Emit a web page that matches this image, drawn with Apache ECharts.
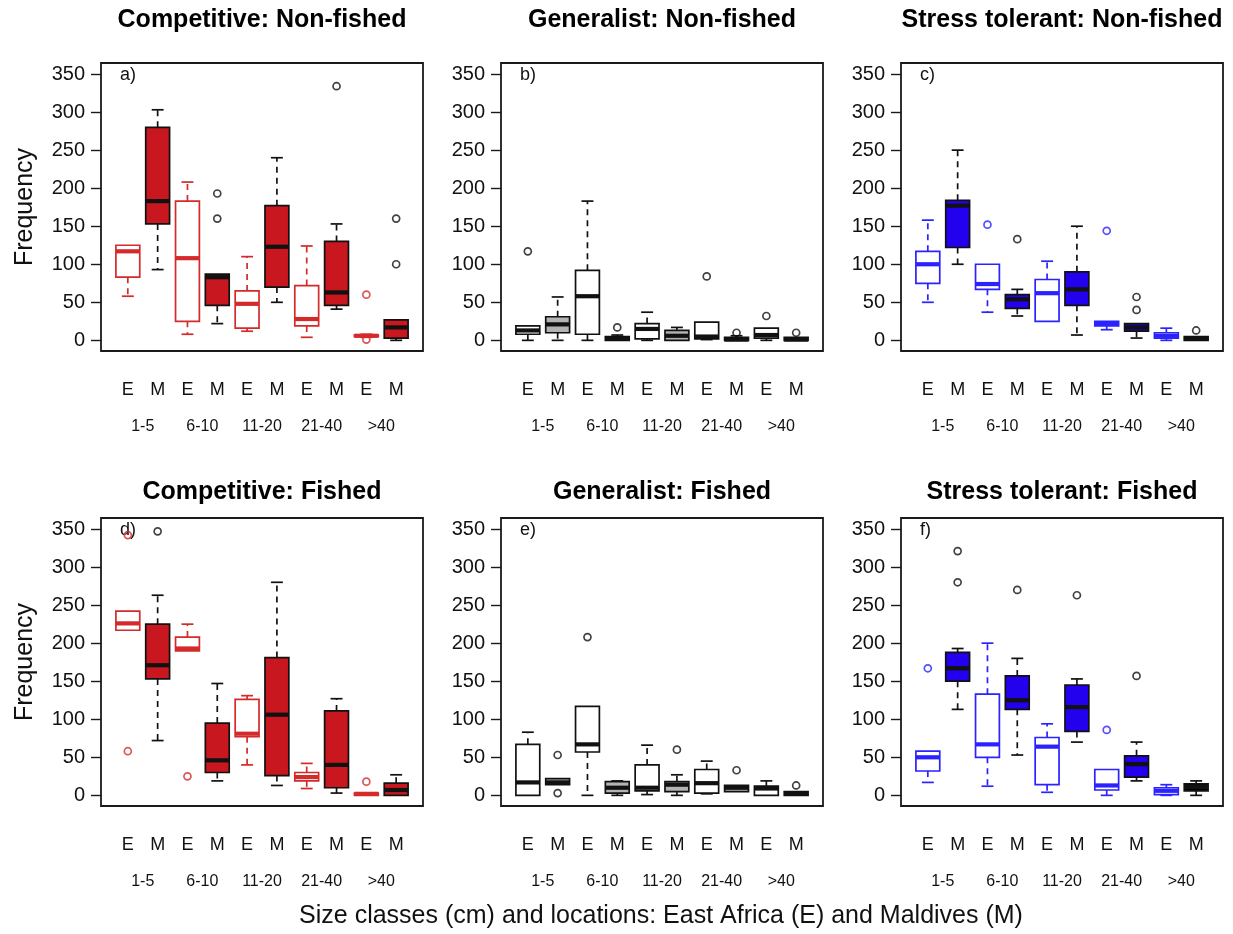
<!DOCTYPE html>
<html>
<head>
<meta charset="utf-8">
<script src="https://cdn.jsdelivr.net/npm/echarts@6/dist/echarts.min.js"></script>
<style>
html,body{margin:0;padding:0;background:#fff;}
#chart{width:1233px;height:934px;}
</style>
</head>
<body>
<div id="chart"></div>
<script>
// ---------------- DATA ----------------
const sizeClasses = ['1-5', '6-10', '11-20', '21-40', '>40'];
const locations = ['E', 'M'];
const yTicks = [0, 50, 100, 150, 200, 250, 300, 350];
const panelTitles = ['Competitive: Non-fished', 'Generalist: Non-fished', 'Stress tolerant: Non-fished',
                     'Competitive: Fished', 'Generalist: Fished', 'Stress tolerant: Fished'];
const panelLetters = ['a)', 'b)', 'c)', 'd)', 'e)', 'f)'];

// boxes: [lower whisker, Q1, median, Q3, upper whisker] ordered E,M for each size class
const compNonFished = [
  [58, 83, 117, 125, 125], [93, 153, 183, 280, 303],
  [8, 25, 108, 183, 208], [22, 46, 83, 87, 87],
  [12, 16, 48, 65, 110], [50, 70, 123, 177, 240],
  [4, 19, 28, 72, 124], [41, 46, 63, 130, 153],
  [4, 5, 6, 7, 8], [0, 3, 17, 27, 27]
];
const compNonFishedOut = [[4, 160], [4, 193], [8, 334], [9, 60], [9, 1], [10, 100], [10, 160]];

const genNonFished = [
  [0, 8, 13, 19, 19], [0, 10, 21, 31, 57],
  [0, 8, 58, 92, 183], [0, 0, 2, 5, 7],
  [0, 2, 15, 22, 37], [0, 0, 6, 13, 17],
  [1, 2, 5, 24, 24], [0, 0, 1, 4, 6],
  [0, 3, 7, 16, 16], [0, 0, 1, 4, 4]
];
const genNonFishedOut = [[1, 117], [4, 17], [7, 84], [8, 10], [9, 32], [10, 10]];

const stressNonFished = [
  [50, 75, 100, 117, 158], [100, 122, 177, 184, 250],
  [37, 67, 74, 100, 100], [32, 42, 54, 60, 67],
  [25, 25, 62, 80, 104], [7, 46, 67, 90, 150],
  [14, 19, 22, 25, 25], [3, 12, 17, 22, 22],
  [0, 3, 6, 10, 16], [0, 0, 2, 5, 5]
];
const stressNonFishedOut = [[3, 152], [4, 133], [7, 144], [8, 40], [8, 57], [10, 13]];

const compFished = [
  [217, 217, 226, 242, 242], [72, 153, 171, 225, 263],
  [190, 190, 193, 208, 225], [19, 30, 46, 95, 147],
  [40, 77, 81, 126, 131], [13, 26, 106, 181, 280],
  [9, 19, 24, 30, 42], [3, 10, 40, 111, 127],
  [0, 0, 2, 3, 3], [0, 0, 7, 16, 27]
];
const compFishedOut = [[1, 58], [1, 342], [2, 347], [3, 25], [9, 18]];

const genFished = [
  [0, 0, 17, 67, 83], [14, 14, 17, 22, 22],
  [0, 57, 67, 117, 117], [0, 3, 10, 18, 19],
  [1, 6, 10, 40, 66], [0, 5, 14, 18, 27],
  [2, 3, 16, 34, 45], [5, 5, 10, 13, 13],
  [0, 0, 9, 12, 19], [0, 0, 2, 5, 5]
];
const genFishedOut = [[2, 53], [2, 3], [3, 208], [6, 60], [8, 33], [10, 13]];

const stressFished = [
  [17, 32, 50, 58, 58], [113, 150, 167, 188, 193],
  [12, 50, 67, 133, 200], [53, 113, 125, 157, 180],
  [4, 14, 64, 76, 94], [70, 84, 116, 145, 153],
  [0, 7, 13, 34, 34], [19, 24, 41, 52, 70],
  [0, 1, 6, 10, 14], [0, 6, 11, 15, 19]
];
const stressFishedOut = [[1, 167], [2, 280], [2, 321], [4, 270], [6, 263], [7, 86], [8, 157]];

// ---------------- STYLE ----------------
const FONT = '"Liberation Sans", Arial, Helvetica, sans-serif';
const RED_E = '#d42a2a', RED_M = '#c8171e';
const BLUE_E = '#2b22ff', BLUE_M = '#2300ee';
const GREY_M = '#b3b3b3';
const themes = {
  comp:   { eStroke: RED_E, mFill: [RED_M, RED_M, RED_M, RED_M, RED_M] },
  gen:    { eStroke: '#111', mFill: [GREY_M, GREY_M, GREY_M, GREY_M, GREY_M] },
  stress: { eStroke: BLUE_E, mFill: [BLUE_M, BLUE_M, BLUE_M, BLUE_M, '#000'] }
};
const panels = [
  { stats: compNonFished, out: compNonFishedOut, theme: themes.comp },
  { stats: genNonFished, out: genNonFishedOut, theme: themes.gen },
  { stats: stressNonFished, out: stressNonFishedOut, theme: themes.stress },
  { stats: compFished, out: compFishedOut, theme: themes.comp },
  { stats: genFished, out: genFishedOut, theme: themes.gen },
  { stats: stressFished, out: stressFishedOut, theme: themes.stress }
];
const gridLefts = [101, 501, 901];
const gridTops = [63, 518];
const GW = 322, GH = 288;

const grids = [], xAxes = [], yAxes = [], series = [], graphics = [];

panels.forEach((p, i) => {
  const col = i % 3, row = Math.floor(i / 3);
  const left = gridLefts[col], top = gridTops[row];
  grids.push({ left: left, top: top, width: GW, height: GH, show: true,
    borderColor: '#1a1a1a', borderWidth: 1.8, backgroundColor: '#fff' });

  const xBase = {
    type: 'value', gridIndex: i, min: 0.1, max: 10.9, position: 'bottom',
    axisLine: { show: false }, axisTick: { show: false }, splitLine: { show: false }
  };
  xAxes.push(Object.assign({}, xBase, {
    axisLabel: { customValues: [1, 2, 3, 4, 5, 6, 7, 8, 9, 10], margin: 30,
      fontFamily: FONT, fontSize: 18, color: '#111',
      formatter: v => locations[(Math.round(v) - 1) % 2] }
  }));
  xAxes.push(Object.assign({}, xBase, {
    axisLabel: { customValues: [1.5, 3.5, 5.5, 7.5, 9.5], margin: 68,
      fontFamily: FONT, fontSize: 16, color: '#111',
      formatter: v => sizeClasses[Math.round((v - 1.5) / 2)] }
  }));
  yAxes.push({
    type: 'value', gridIndex: i, min: -14, max: 364.5,
    axisLine: { show: false }, splitLine: { show: false },
    axisTick: { show: true, customValues: yTicks, length: 10, lineStyle: { color: '#1a1a1a', width: 1.4 } },
    axisLabel: { customValues: yTicks, margin: 16, fontFamily: FONT, fontSize: 20, color: '#111' }
  });

  const th = p.theme;
  series.push({
    type: 'custom', xAxisIndex: 2 * i, yAxisIndex: i, clip: false,
    data: p.stats.map((s, k) => [k + 1].concat(s)),
    renderItem: function (params, api) {
      const k = params.dataIndex;
      const isE = k % 2 === 0;
      const x = api.value(0);
      const lo = api.coord([x, api.value(1)]);
      const q1 = api.coord([x, api.value(2)]);
      const md = api.coord([x, api.value(3)]);
      const q3 = api.coord([x, api.value(4)]);
      const hi = api.coord([x, api.value(5)]);
      const hw = api.size([0.4, 0])[0];
      const sw = api.size([0.2, 0])[0];
      const stroke = isE ? th.eStroke : '#111';
      const fill = isE ? '#fff' : th.mFill[Math.floor(k / 2)];
      const cx = lo[0];
      const children = [];
      const wl = { stroke: stroke, lineWidth: 1.7, lineDash: [6, 5] };
      if (hi[1] < q3[1] - 0.5) {
        children.push({ type: 'line', shape: { x1: cx, y1: q3[1], x2: cx, y2: hi[1] }, style: wl });
        children.push({ type: 'line', shape: { x1: cx - sw, y1: hi[1], x2: cx + sw, y2: hi[1] }, style: { stroke: stroke, lineWidth: 1.7 } });
      }
      if (lo[1] > q1[1] + 0.5) {
        children.push({ type: 'line', shape: { x1: cx, y1: q1[1], x2: cx, y2: lo[1] }, style: wl });
        children.push({ type: 'line', shape: { x1: cx - sw, y1: lo[1], x2: cx + sw, y2: lo[1] }, style: { stroke: stroke, lineWidth: 1.7 } });
      }
      children.push({ type: 'rect', shape: { x: cx - hw, y: q3[1], width: 2 * hw, height: Math.max(q1[1] - q3[1], 0.5) },
        style: { fill: fill, stroke: stroke, lineWidth: 1.7 } });
      children.push({ type: 'line', shape: { x1: cx - hw, y1: md[1], x2: cx + hw, y2: md[1] },
        style: { stroke: stroke, lineWidth: 4.2, lineCap: 'butt' } });
      return { type: 'group', children: children };
    }
  });
  series.push({
    type: 'scatter', xAxisIndex: 2 * i, yAxisIndex: i, symbol: 'circle', symbolSize: 7,
    data: p.out.map(o => ({ value: o, itemStyle: {
      color: 'rgba(255,255,255,0)', borderWidth: 1.7,
      borderColor: (o[0] % 2 === 1) ? th.eStroke : '#111' } })),
    emphasis: { disabled: true }
  });

  graphics.push({ type: 'text', x: left + GW / 2, y: row === 0 ? 20 : 492,
    style: { text: panelTitles[i], font: 'bold 25px ' + FONT, fill: '#000', textAlign: 'center', textVerticalAlign: 'middle' } });
  graphics.push({ type: 'text', x: left + 19, y: top + 12,
    style: { text: panelLetters[i], font: '18px ' + FONT, fill: '#111', textAlign: 'left', textVerticalAlign: 'middle' } });
  if (col === 0) {
    graphics.push({ type: 'text', x: 25, y: top + GH / 2, rotation: Math.PI / 2,
      style: { text: 'Frequency', font: '25px ' + FONT, fill: '#111', textAlign: 'center', textVerticalAlign: 'middle' } });
  }
});

graphics.push({ type: 'text', x: 661, y: 916,
  style: { text: 'Size classes (cm) and locations: East Africa (E) and Maldives (M)', font: '25px ' + FONT,
    fill: '#111', textAlign: 'center', textVerticalAlign: 'middle' } });

const chart = echarts.init(document.getElementById('chart'), null, { renderer: 'canvas' });
chart.setOption({
  animation: false,
  backgroundColor: '#fff',
  grid: grids,
  xAxis: xAxes,
  yAxis: yAxes,
  series: series,
  graphic: graphics
});
</script>
</body>
</html>
